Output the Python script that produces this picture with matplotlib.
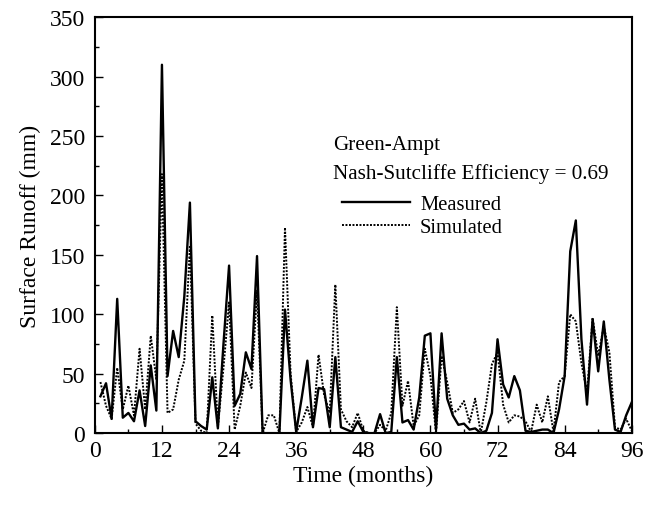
import matplotlib
matplotlib.use("Agg")
import matplotlib.pyplot as plt
from matplotlib.ticker import MultipleLocator

plt.rcParams['font.family'] = ['Liberation Serif', 'DejaVu Serif']

months = list(range(1, 97))

measured = [31, 42, 12, 113, 13, 17, 10, 36, 6, 57, 19, 310,
            48, 86, 64, 115, 194, 10, 6, 3, 47, 4, 75, 141,
            23, 33, 68, 54, 149, 0, 0, 0, 0, 104, 45, 1,
            30, 61, 5, 38, 37, 5, 64, 5, 3, 1, 10, 1,
            0, 0, 16, 0, 1, 64, 9, 11, 3, 30, 82, 84,
            3, 84, 29, 15, 7, 8, 3, 4, 0, 2, 17, 79,
            41, 30, 48, 36, 2, 1, 2, 3, 3, 0, 20, 48,
            153, 179, 79, 24, 96, 52, 94, 45, 3, 1, 15, 26]

simulated = [43, 23, 12, 55, 20, 40, 15, 71, 20, 82, 45, 218,
             17, 20, 45, 61, 158, 8, 2, 0, 99, 5, 55, 110,
             3, 23, 51, 38, 120, 0, 15, 15, 0, 173, 50, 1,
             9, 22, 5, 66, 32, 17, 125, 20, 10, 5, 17, 2,
             0, 0, 7, 2, 17, 106, 23, 44, 6, 15, 71, 48,
             0, 65, 43, 17, 20, 27, 9, 29, 0, 26, 58, 68,
             24, 9, 15, 14, 10, 1, 24, 9, 31, 1, 43, 48,
             100, 94, 59, 34, 97, 65, 90, 68, 5, 3, 12, 2]

fig = plt.figure(figsize=(6.54, 5.06), dpi=100)
ax = fig.add_axes([0.145, 0.142, 0.821, 0.822])

ax.plot(months, measured, color="black", linewidth=1.7, label="Measured")
ax.plot(months, simulated, color="black", linewidth=1.4,
        linestyle=(0, (1, 0.8)), label="Simulated")

ax.set_xlim(0, 96)
ax.set_ylim(0, 350)
ax.xaxis.set_major_locator(MultipleLocator(12))
ax.xaxis.set_minor_locator(MultipleLocator(6))
ax.yaxis.set_major_locator(MultipleLocator(50))
ax.yaxis.set_minor_locator(MultipleLocator(25))
ax.tick_params(which="both", direction="in", labelsize=17, width=1)
ax.tick_params(which="major", length=6)
ax.tick_params(which="minor", length=3)
ax.tick_params(axis="y", pad=7)
ax.tick_params(axis="x", pad=5)
for s in ax.spines.values():
    s.set_linewidth(1.5)

ax.set_xlabel("Time (months)", fontsize=17, labelpad=3)
ax.set_ylabel("Surface Runoff (mm)", fontsize=17, labelpad=6)

# texto e legenda
ax.text(0.443, 0.695, "Green-Ampt", transform=ax.transAxes,
        fontsize=15.2, va="center")
ax.text(0.443, 0.625, "Nash-Sutcliffe Efficiency = 0.69",
        transform=ax.transAxes, fontsize=15.2, va="center")
ax.legend(loc="center left", bbox_to_anchor=(0.445, 0.522), frameon=False,
          fontsize=14.8, handlelength=3.3, handletextpad=0.5,
          labelspacing=0.2, borderaxespad=0)

plt.savefig("out.png", dpi=100)
